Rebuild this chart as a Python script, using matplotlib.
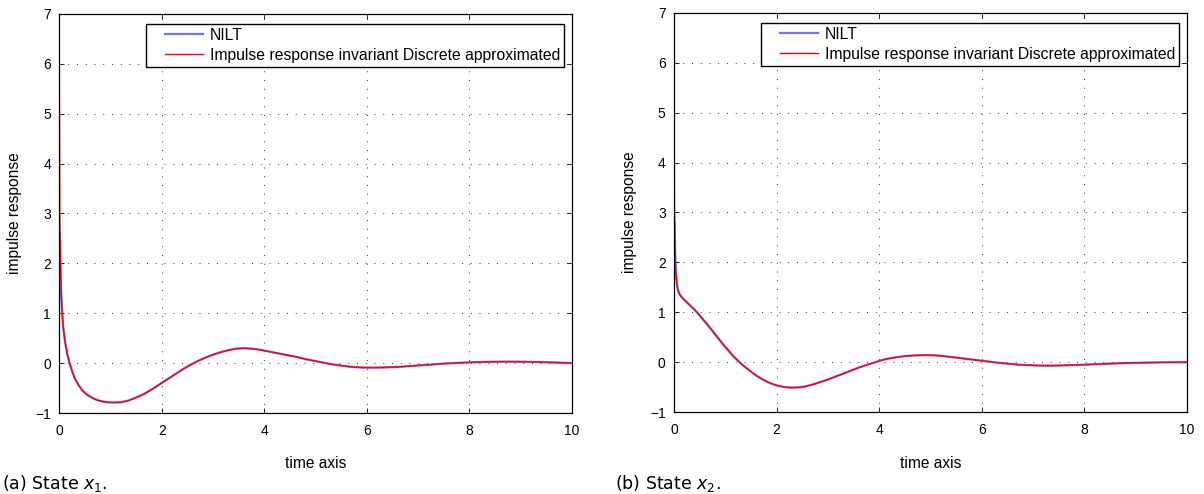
import matplotlib
matplotlib.use("Agg")
import matplotlib.pyplot as plt
from matplotlib.legend_handler import HandlerLine2D

plt.rcParams['font.family'] = ['Liberation Sans', 'DejaVu Sans']
plt.rcParams['mathtext.fontset'] = 'dejavusans'

# ---- data ----
x_ticks = [0, 2, 4, 6, 8, 10]
y_ticks = [-1, 0, 1, 2, 3, 4, 5, 6, 7]

# State x1 - discrete approximation (starts with the t=0 spike)
t_x1_disc = [0, 0.01, 0.02, 0.03, 0.04, 0.05, 0.065, 0.08, 0.1, 0.13, 0.16, 0.2, 0.25, 0.3,
             0.37, 0.45, 0.55, 0.65, 0.75, 0.85, 0.95, 1.05, 1.2, 1.35, 1.5, 1.65, 1.8, 1.95,
             2.1, 2.25, 2.4, 2.55, 2.7, 2.85, 3.0, 3.15, 3.3, 3.45, 3.6, 3.75, 3.9, 4.05, 4.2,
             4.35, 4.5, 4.65, 4.8, 4.95, 5.1, 5.3, 5.5, 5.7, 5.9, 6.1, 6.3, 6.5, 6.7, 6.9, 7.1,
             7.3, 7.5, 7.7, 7.9, 8.1, 8.3, 8.5, 8.7, 8.9, 9.1, 9.3, 9.5, 9.7, 9.85, 10.0]
x1_disc = [6.1, 2.9, 2.1, 1.65, 1.35, 1.12, 0.88, 0.7, 0.52, 0.32, 0.16, 0.0, -0.16, -0.3,
           -0.43, -0.55, -0.64, -0.7, -0.745, -0.77, -0.785, -0.79, -0.785, -0.75, -0.69,
           -0.62, -0.53, -0.43, -0.33, -0.23, -0.13, -0.04, 0.04, 0.11, 0.17, 0.22, 0.26,
           0.29, 0.3, 0.29, 0.27, 0.24, 0.21, 0.18, 0.15, 0.12, 0.08, 0.05, 0.02, -0.02,
           -0.05, -0.075, -0.088, -0.09, -0.088, -0.08, -0.07, -0.055, -0.04, -0.025, -0.01,
           0.0, 0.01, 0.018, 0.024, 0.028, 0.03, 0.029, 0.027, 0.022, 0.017, 0.011, 0.006,
           0.002]
# State x1 - NILT
t_x1_nilt = [0.01, 0.02, 0.03, 0.04, 0.05, 0.065, 0.08, 0.1, 0.13, 0.16, 0.2, 0.25, 0.3,
             0.37, 0.45, 0.55, 0.65, 0.75, 0.85, 0.95, 1.05, 1.2, 1.35, 1.5, 1.65, 1.8, 1.95,
             2.1, 2.25, 2.4, 2.55, 2.7, 2.85, 3.0, 3.15, 3.3, 3.45, 3.6, 3.75, 3.9, 4.05, 4.2,
             4.35, 4.5, 4.65, 4.8, 4.95, 5.1, 5.3, 5.5, 5.7, 5.9, 6.1, 6.3, 6.5, 6.7, 6.9, 7.1,
             7.3, 7.5, 7.7, 7.9, 8.1, 8.3, 8.5, 8.7, 8.9, 9.1, 9.3, 9.5, 9.7, 9.85, 10.0]
x1_nilt = [2.6, 2.1, 1.65, 1.35, 1.12, 0.88, 0.7, 0.52, 0.32, 0.16, 0.0, -0.16, -0.3,
           -0.43, -0.55, -0.64, -0.7, -0.745, -0.77, -0.785, -0.79, -0.785, -0.75, -0.69,
           -0.62, -0.53, -0.43, -0.33, -0.23, -0.13, -0.04, 0.04, 0.11, 0.17, 0.22, 0.26,
           0.29, 0.3, 0.29, 0.27, 0.24, 0.21, 0.18, 0.15, 0.12, 0.08, 0.05, 0.02, -0.02,
           -0.05, -0.075, -0.088, -0.09, -0.088, -0.08, -0.07, -0.055, -0.04, -0.025, -0.01,
           0.0, 0.01, 0.018, 0.024, 0.028, 0.03, 0.029, 0.027, 0.022, 0.017, 0.011, 0.006,
           0.002]

# State x2 - discrete approximation
t_x2_disc = [0, 0.01, 0.02, 0.03, 0.04, 0.055, 0.07, 0.09, 0.12, 0.16, 0.21, 0.28, 0.34, 0.4,
             0.47, 0.55, 0.65, 0.75, 0.85, 0.95, 1.05, 1.15, 1.25, 1.35, 1.45, 1.55, 1.65, 1.75,
             1.85, 1.95, 2.05, 2.15, 2.25, 2.35, 2.45, 2.55, 2.7, 2.85, 3.0, 3.15, 3.3, 3.45,
             3.6, 3.75, 3.9, 4.05, 4.2, 4.35, 4.5, 4.7, 4.9, 5.1, 5.3, 5.5, 5.7, 5.9, 6.1, 6.3,
             6.5, 6.7, 6.9, 7.1, 7.3, 7.5, 7.7, 7.9, 8.1, 8.3, 8.5, 8.7, 8.9, 9.2, 9.5, 9.8, 10.0]
x2_disc = [6.1, 3.0, 2.3, 1.95, 1.75, 1.58, 1.48, 1.4, 1.34, 1.29, 1.24, 1.17, 1.11, 1.05,
           0.98, 0.88, 0.76, 0.63, 0.5, 0.37, 0.25, 0.13, 0.03, -0.07, -0.15, -0.23, -0.3,
           -0.36, -0.41, -0.45, -0.48, -0.5, -0.51, -0.51, -0.505, -0.49, -0.45, -0.4, -0.35,
           -0.29, -0.23, -0.17, -0.11, -0.06, -0.01, 0.04, 0.075, 0.1, 0.12, 0.135, 0.14,
           0.135, 0.115, 0.09, 0.065, 0.04, 0.015, -0.01, -0.03, -0.05, -0.06, -0.068, -0.07,
           -0.068, -0.062, -0.055, -0.047, -0.038, -0.03, -0.022, -0.016, -0.01, -0.005,
           -0.003, -0.002]
# State x2 - NILT
t_x2_nilt = [0.01, 0.02, 0.03, 0.04, 0.055, 0.07, 0.09, 0.12, 0.16, 0.21, 0.28, 0.34, 0.4,
             0.47, 0.55, 0.65, 0.75, 0.85, 0.95, 1.05, 1.15, 1.25, 1.35, 1.45, 1.55, 1.65, 1.75,
             1.85, 1.95, 2.05, 2.15, 2.25, 2.35, 2.45, 2.55, 2.7, 2.85, 3.0, 3.15, 3.3, 3.45,
             3.6, 3.75, 3.9, 4.05, 4.2, 4.35, 4.5, 4.7, 4.9, 5.1, 5.3, 5.5, 5.7, 5.9, 6.1, 6.3,
             6.5, 6.7, 6.9, 7.1, 7.3, 7.5, 7.7, 7.9, 8.1, 8.3, 8.5, 8.7, 8.9, 9.2, 9.5, 9.8, 10.0]
x2_nilt = [2.8, 2.3, 1.95, 1.75, 1.58, 1.48, 1.4, 1.34, 1.29, 1.24, 1.17, 1.11, 1.05,
           0.97, 0.87, 0.75, 0.62, 0.49, 0.36, 0.24, 0.12, 0.02, -0.07, -0.15, -0.23, -0.3,
           -0.36, -0.41, -0.45, -0.48, -0.5, -0.51, -0.51, -0.505, -0.49, -0.45, -0.4, -0.35,
           -0.29, -0.23, -0.17, -0.11, -0.06, -0.01, 0.04, 0.075, 0.1, 0.12, 0.135, 0.14,
           0.135, 0.115, 0.09, 0.065, 0.04, 0.015, -0.01, -0.03, -0.05, -0.06, -0.068, -0.07,
           -0.068, -0.062, -0.055, -0.047, -0.038, -0.03, -0.022, -0.016, -0.01, -0.005,
           -0.003, -0.002]

legend_labels = ["NILT", "Impulse response invariant Discrete approximated"]
x_label = "time axis"
y_label = "impulse response"
captions = [r"(a) State $\mathit{x}_1$.", r"(b) State $\mathit{x}_2$."]

# ---- figure ----
W, H = 1204, 494
fig = plt.figure(figsize=(W / 100, H / 100), dpi=100)

panels = [
    dict(rect=(59.3, 413.0, 512.5, 399.0), nilt=(t_x1_nilt, x1_nilt), disc=(t_x1_disc, x1_disc), cap_x=2),
    dict(rect=(674.0, 412.0, 513.0, 399.0), nilt=(t_x2_nilt, x2_nilt), disc=(t_x2_disc, x2_disc), cap_x=615),
]

blue = (0.45, 0.45, 1.0)
red = (1.0, 0.0, 0.0)

for i, p in enumerate(panels):
    x0, yb, w, h = p['rect']
    ax = fig.add_axes([x0 / W, (H - yb) / H, w / W, h / H])
    l1, = ax.plot(*p['nilt'], color=blue, lw=1.6, solid_joinstyle='round')
    l2, = ax.plot(*p['disc'], color=red, lw=1.0, solid_joinstyle='round')
    ax.set_xlim(0, 10)
    ax.set_ylim(-1, 7)
    ax.set_xticks(x_ticks)
    ax.set_yticks(y_ticks)
    ax.grid(True, color='#333333', linestyle=(0, (1, 8)), linewidth=0.7)
    ax.tick_params(direction='in', length=3.3, width=0.6, top=True, right=True,
                   labelsize=10, colors='black')
    ax.tick_params(axis='x', pad=8)
    ax.tick_params(axis='y', pad=6)
    for s in ax.spines.values():
        s.set_linewidth(0.9)
        s.set_color('black')
    ax.set_xlabel(x_label, fontsize=11.2)
    ax.set_ylabel(y_label, fontsize=11.2)
    ax.xaxis.set_label_coords(0.5, (yb - 456) / h)
    ax.yaxis.set_label_coords(-37.3 / w, 0.5)

    leg = ax.legend([l1, l2], legend_labels, loc='upper right',
                    bbox_to_anchor=(1 - 7.5 / w, 1 - 10 / h), borderaxespad=0,
                    fontsize=11.3, frameon=True, fancybox=False, framealpha=1,
                    edgecolor='black', borderpad=0.25, labelspacing=0.32,
                    handlelength=3.4, handletextpad=0.43,
                    handler_map={l1: HandlerLine2D(xpad=0.95), l2: HandlerLine2D(xpad=0.95)})
    leg.get_frame().set_linewidth(1.0)

    fig.text(p['cap_x'] / W, (H - 489) / H, captions[i], fontsize=12.5,
             family=['DejaVu Sans'], ha='left', va='baseline')

fig.savefig("out.png", dpi=100)
